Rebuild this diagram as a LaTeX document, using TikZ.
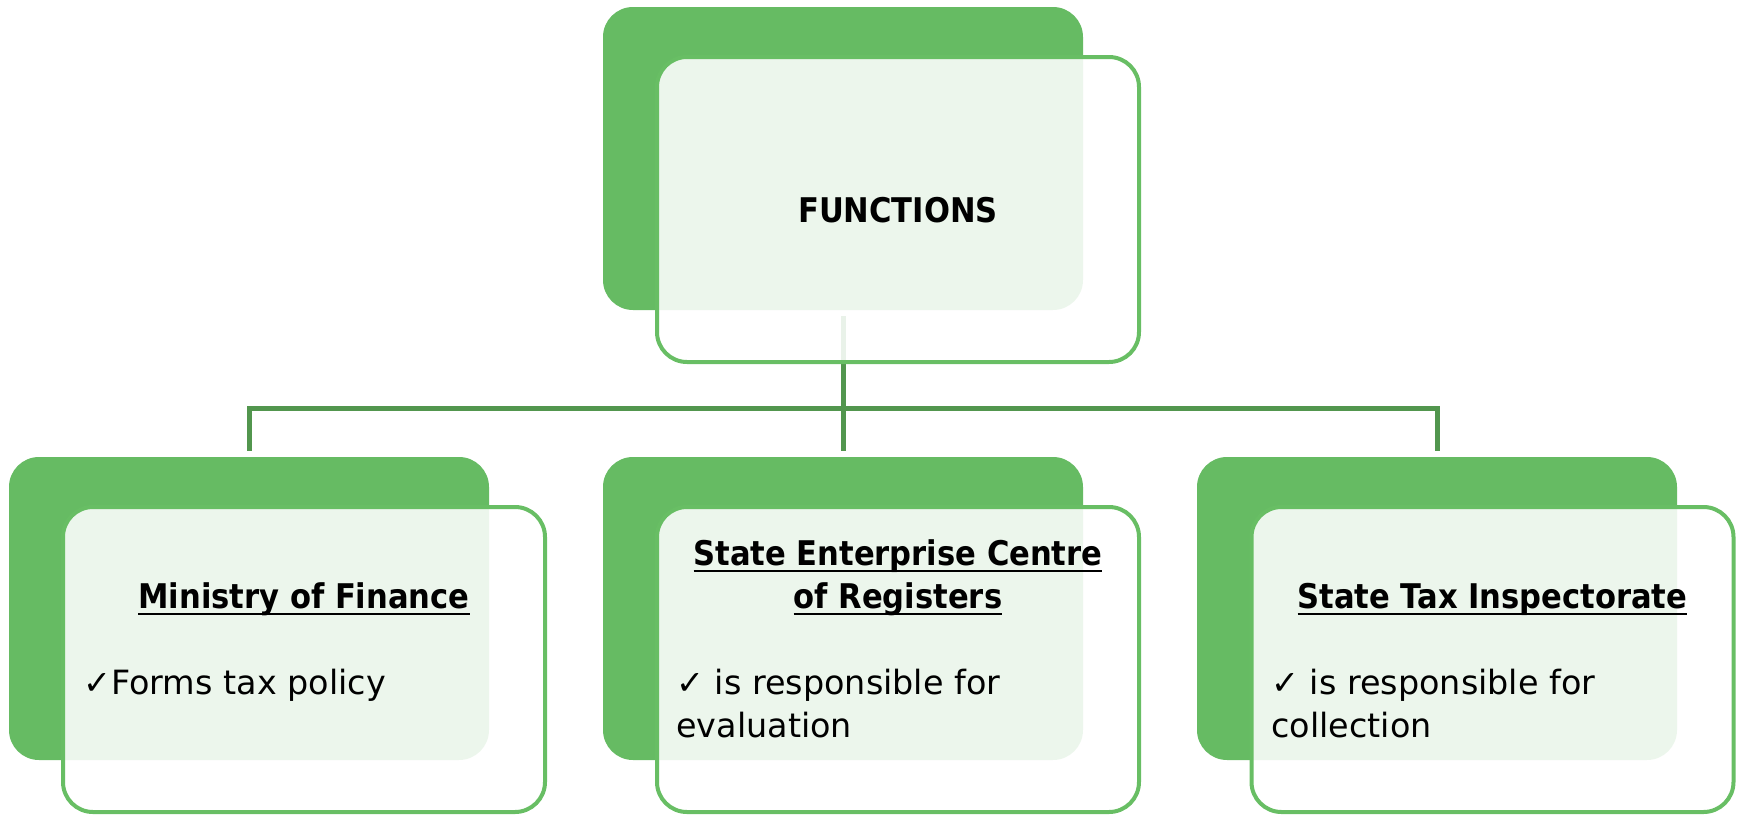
\documentclass[tikz,border=0pt]{standalone}
\usepackage{fontspec}
\setmainfont{DejaVu Sans Condensed}
\newfontfamily\bodyfont{DejaVu Sans}
\definecolor{backgreen}{RGB}{102,187,99}
\definecolor{edgegreen}{RGB}{104,190,100}
\definecolor{conngreen}{RGB}{82,150,78}
\newcommand\myul[1]{\setbox0\hbox{#1}\rlap{\rule[-3.6pt]{\wd0}{1.1pt}}\box0}
\tikzset{
  backbox/.style={fill=backgreen, draw=none, rounded corners=15pt, minimum width=240pt, minimum height=151.5pt, inner sep=0pt},
  frontbox/.style={fill=white, fill opacity=0.88, draw=edgegreen, draw opacity=1, line width=2pt, rounded corners=15pt, minimum width=241pt, minimum height=152.5pt, inner sep=0pt},
  conn/.style={draw=conngreen, line width=2.5pt},
  titletext/.style={font=\fontsize{17}{21.5}\selectfont\bfseries, align=center, inner sep=0pt, anchor=base},
  bodytext/.style={font=\bodyfont\fontsize{16.7}{21.2}\selectfont, align=left, inner sep=0pt, anchor=base west},
}
\begin{document}
\begin{tikzpicture}[x=0.5pt,y=-0.5pt]
\useasboundingbox (0,0) rectangle (1742,815);
% back boxes
\node[backbox] (topback) at (843,158.5) {};
\node[backbox] (leftback) at (249,608.5) {};
\node[backbox] (midback) at (843,608.5) {};
\node[backbox] (rightback) at (1437,608.5) {};
% connectors
\coordinate (bus) at (843,408);
\draw[conn, shorten <=3pt] (topback.south) -- (bus);
\draw[conn, shorten >=3pt] (bus) -| (leftback.north);
\draw[conn, shorten >=3pt] (bus) -| (rightback.north);
\draw[conn, shorten >=3pt] (bus) -- (midback.north);
% front boxes
\node[frontbox] (topfront) at (898,209.5) {};
\node[frontbox] (leftfront) at (304,659.5) {};
\node[frontbox] (midfront) at (898,659.5) {};
\node[frontbox] (rightfront) at (1492.5,659.5) {};
% texts
\node[titletext] (functions) at (898,222) {FUNCTIONS};
\node[titletext] (mof) at (304,608) {\myul{Ministry of Finance}};
\node[titletext] (secr) at (898,608) {\myul{State Enterprise Centre}\\\myul{of Registers}};
\node[titletext] (sti) at (1492.5,608) {\myul{State Tax Inspectorate}};
\node[bodytext] (mofbody) at (83,694) {✓Forms tax policy};
\node[bodytext] (secrbody) at (676,737) {✓ is responsible for\\evaluation};
\node[bodytext] (stibody) at (1271,737) {✓ is responsible for\\collection};
\end{tikzpicture}
\end{document}
